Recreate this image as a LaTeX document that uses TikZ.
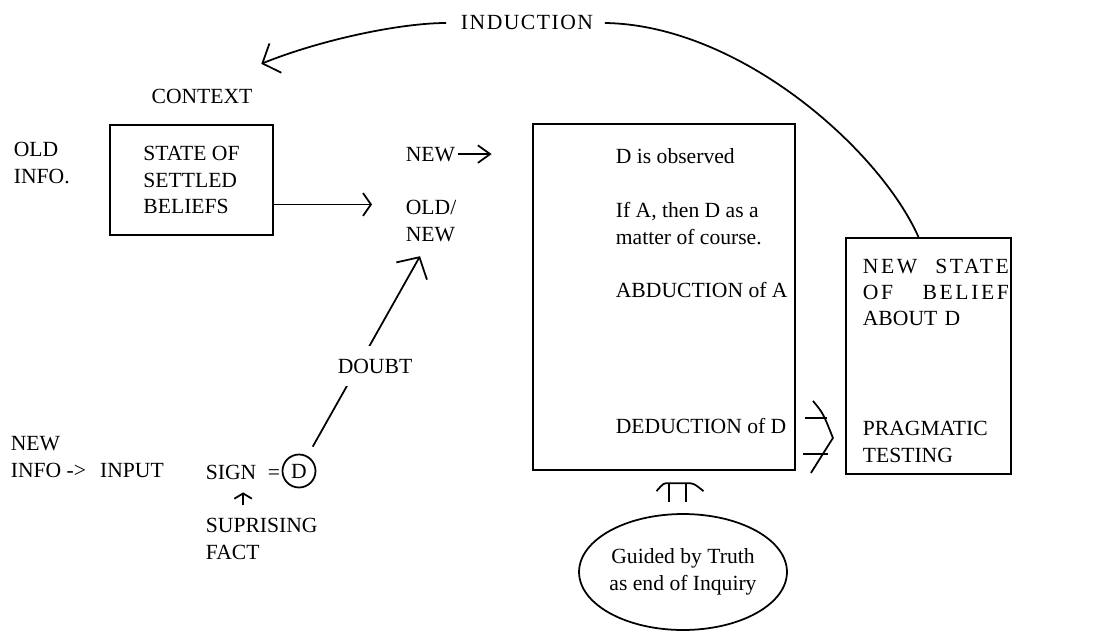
\documentclass[tikz,border=0pt]{standalone}
\usepackage{fontspec}
\setmainfont{Liberation Serif}
\usetikzlibrary{arrows.meta,calc,shapes.geometric}
\tikzset{>={Straight Barb[length=4.5pt,width=13pt]}}
\tikzset{
  lbl/.style={inner sep=0pt,align=left,font=\fontsize{12.3}{15}\selectfont},
  box/.style={draw,line width=1.1pt,inner sep=0pt},
  bigtip/.style={-{Straight Barb[length=9pt,width=20pt]}},
  newtip/.style={-{Straight Barb[length=7pt,width=10pt]}},
  smalltip/.style={-{Straight Barb[length=3pt,width=10pt]}}
}
\newcommand{\spaced}{\addfontfeature{LetterSpace=12}}

\begin{document}
\begin{tikzpicture}[x=0.02cm,y=-0.02cm,line width=1pt]
  \useasboundingbox (0,0) rectangle (1094,632);
  % old information
  \node[lbl,anchor=base west] (oldinfo) at (13,183) {OLD\\INFO.};
  \node[lbl,anchor=base] (context) at (202,103) {CONTEXT};
  \node[box,lbl,minimum width=3.26cm,minimum height=2.2cm] (settled) at (191.5,180) {STATE OF\\SETTLED\\BELIEFS};
  \node[lbl,anchor=base west] (new) at (405,161) {NEW};
  \node[lbl,anchor=base west] (oldnew) at (405,241) {OLD/\\NEW};
  % new information
  \node[lbl,anchor=base west] (newinfo) at (10,477) {NEW\\INFO ->\hspace{8pt}INPUT};
  \node[lbl,anchor=base west] (sign) at (205,479) {SIGN};
  \node[lbl,anchor=base west] (eq) at (267,479) {=};
  \node[draw,circle,lbl,minimum size=0.66cm] (dcirc) at (299,471) {D};
  \node[lbl,anchor=base west] (supr) at (205,559) {SUPRISING\\FACT};
  % inquiry
  \node[box,minimum width=5.24cm,minimum height=6.92cm] (bigbox) at (664,297) {};
  \node[lbl,anchor=base west] (observed) at (615,163) {D is observed};
  \node[lbl,anchor=base west] (ifthen) at (615,244) {If A, then D as a\\matter of course.};
  \node[lbl,anchor=base west] (abduction) at (615,297) {ABDUCTION of A};
  \node[lbl,anchor=base west] (deduction) at (615,433) {DEDUCTION of D};
  \node[box,minimum width=3.3cm,minimum height=4.72cm] (newbox) at (928.5,356) {};
  \node[lbl,anchor=base west,text width=2.92cm] (newstate) at (862,273) {{\spaced NEW\hfill STATE}\\{\spaced OF\hfill BELIEF}\\ABOUT D};
  \node[lbl,anchor=base west] (pragmatic) at (862,462) {PRAGMATIC\\TESTING};
  \node[draw,ellipse,lbl,align=center,minimum width=3.84cm,minimum height=2.32cm] (guided) at (683,572) {Guided by Truth\\as end of Inquiry};
  \node[lbl,anchor=base] (induction) at (527,30) {\addfontfeature{LetterSpace=7}INDUCTION};
  % connectors
  \coordinate (indtip) at ($(context.north east)+(8,-24)$);
  \draw[-{Straight Barb[length=8pt,width=18pt]}] ($(induction.base west)+(-14,-7)$) .. controls (400,23) and (320,40) .. (indtip);
  \draw ($(induction.base east)+(11,-7)$) .. controls (740,25) and (880,150) .. ($(newbox.north west)!0.44!(newbox.north east)$);
  \coordinate (oldtip) at ($(oldnew.north west)+(-33,5)$);
  \draw[->] (settled.east |- oldtip) -- (oldtip);
  \draw[newtip,shorten <=1pt,shorten >=23pt] (new.east) -- (new.east -| bigbox.west);
  \coordinate (dtip) at ($(oldnew.south west)+(15,14)$);
  \draw[bigtip,shorten <=6pt] (dcirc) -- (dtip);
  \node[lbl,anchor=base,fill=white,inner ysep=7pt,inner xsep=2pt] (doubt) at (375,373) {DOUBT};
  \coordinate (sfoot) at ($(sign.south west)!0.73!(sign.south east)$);
  \draw[smalltip,shorten <=7pt,shorten >=7pt] (sfoot |- supr.north) -- (sfoot);
  \coordinate (chev) at ($(bigbox.south east)+(37,-33)$);
  \draw ($(chev)+(-28,-20)$) -- ($(chev)+(-6,-20)$);
  \draw ($(chev)+(-30,16)$) -- ($(chev)+(-5,16)$);
  \draw ($(chev)+(-20,-37)$) .. controls ($(chev)+(-10,-25)$) .. (chev) -- ($(chev)+(-22,35)$);
  \coordinate (hat) at ($(guided.north)+(-5.5,-30)$);
  \draw ($(hat)+(-8.5,19)$) -- ($(hat)+(-8.5,0)$);
  \draw ($(hat)+(8.5,19)$) -- ($(hat)+(8.5,0)$);
  \draw ($(hat)+(-21,8)$) .. controls ($(hat)+(-14,0)$) .. ($(hat)+(-8.5,0)$) -- ($(hat)+(8.5,0)$) .. controls ($(hat)+(16,0)$) .. ($(hat)+(26,8)$);
\end{tikzpicture}
\end{document}
